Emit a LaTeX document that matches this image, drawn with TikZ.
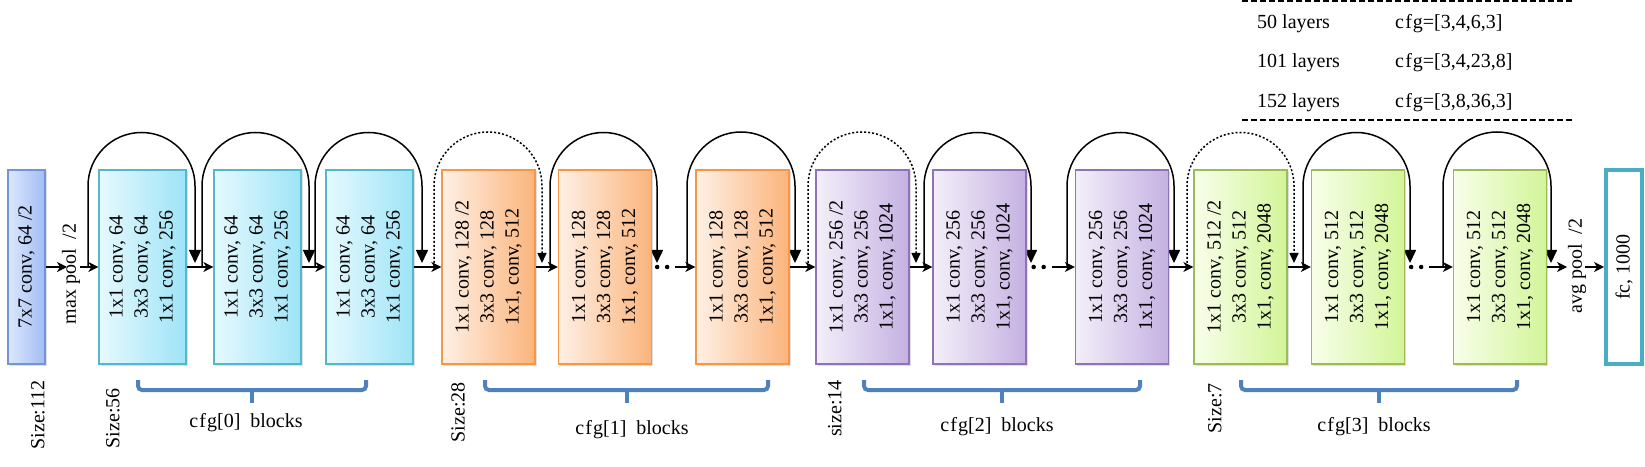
\documentclass[tikz,border=0pt]{standalone}
\usepackage{fontspec}
\setmainfont{Liberation Serif}
\usetikzlibrary{arrows.meta,shadows}
\definecolor{blueL}{HTML}{DCE7FC}
\definecolor{blueR}{HTML}{A2BDF4}
\definecolor{blueE}{HTML}{7395D5}
\definecolor{cyanL}{HTML}{E6F9FE}
\definecolor{cyanR}{HTML}{9EE4F7}
\definecolor{cyanE}{HTML}{55B7CC}
\definecolor{orL}{HTML}{FEF0E5}
\definecolor{orR}{HTML}{FBB47C}
\definecolor{orE}{HTML}{F79646}
\definecolor{puL}{HTML}{F3EFF9}
\definecolor{puR}{HTML}{C5B1E2}
\definecolor{puE}{HTML}{8E74B4}
\definecolor{grL}{HTML}{F8FEEA}
\definecolor{grR}{HTML}{D2F598}
\definecolor{grE}{HTML}{9BBB59}
\definecolor{fcE}{HTML}{4BACC6}
\definecolor{braceC}{HTML}{4F81BD}
\newcommand\resskip[4]{\draw[#4] (#1,199) -- (#1,280) arc[start angle=180,end angle=0,radius=#3] -- (#2,203);}
\newcommand\blkbrace[2]{\draw[brace] (#1,86) -- (#1,76) -- (#2,76) -- (#2,86);
  \draw[brace,rounded corners=0pt] ({(#1+#2)/2},76) -- ({(#1+#2)/2},63);}
\newcommand\cfgword{c\kern1.2pt f\kern1pt g}
\begin{document}
\begin{tikzpicture}[x=1pt,y=1pt,
  txt/.style={font=\fontsize{20}{25}\selectfont, inner sep=0pt},
  blk/.style={minimum height=194pt, minimum width=93pt, inner sep=0pt, line width=1.3pt,
    drop shadow={opacity=0.25,shadow xshift=1.5pt,shadow yshift=-1.5pt}},
  blueb/.style={blk, minimum width=37pt, draw=blueE, left color=blueL, right color=blueR},
  cyanb/.style={blk, minimum width=87pt, draw=cyanE, left color=cyanL, right color=cyanR},
  orb/.style={blk, draw=orE, left color=orL, right color=orR},
  pub/.style={blk, draw=puE, left color=puL, right color=puR},
  grb/.style={blk, draw=grE, left color=grL, right color=grR},
  fcb/.style={minimum height=194pt, minimum width=36pt, inner sep=0pt, line width=4pt, draw=fcE, fill=white},
  rtxt/.style={txt, rotate=90, align=center},
  arr/.style={line width=1.8pt, -{Stealth[length=10pt,width=10pt,inset=3pt]}},
  skipc/.style={line width=1.5pt, -{Triangle[length=13pt,width=12pt]}},
  skipd/.style={line width=1.5pt, dash pattern=on 2pt off 2pt, -{Triangle[length=10pt,width=9pt]}},
  brace/.style={line width=4pt, draw=braceC, rounded corners=4pt},
  dots/.style={line width=4.5pt, line cap=round, dash pattern=on 0pt off 10pt},
  tdash/.style={line width=2pt, dash pattern=on 6pt off 3pt},
]
\useasboundingbox (0,0) rectangle (1645,466);

% table
\draw[tdash] (1242,464.5) coordinate (ta) -- (1573,464.5) coordinate (tb);
\draw[tdash] (1242,346) coordinate (tc) -- (1573,346) coordinate (td);
\node[txt, anchor=west] (l50) at (1257,442) {50 layers};
\node[txt, anchor=west] (c50) at (1395,442) {\cfgword=[3,4,6,3]};
\node[txt, anchor=west] (l101) at (1257,403) {101 layers};
\node[txt, anchor=west] (c101) at (1395,403) {\cfgword=[3,4,23,8]};
\node[txt, anchor=west] (l152) at (1257,363) {152 layers};
\node[txt, anchor=west] (c152) at (1395,363) {\cfgword=[3,8,36,3]};

% skip loops (behind boxes)
\resskip{88}{195}{53.5pt}{skipc}
\resskip{202}{309}{53.5pt}{skipc}
\resskip{315}{422}{53.5pt}{skipc}
\resskip{434}{542}{54pt}{skipd}
\resskip{550}{657}{53.5pt}{skipc}
\resskip{687}{795}{54pt}{skipc}
\resskip{808}{916}{54pt}{skipd}
\resskip{924}{1031}{53.5pt}{skipc}
\resskip{1067}{1174}{53.5pt}{skipc}
\resskip{1187}{1294}{53.5pt}{skipd}
\resskip{1303}{1410}{53.5pt}{skipc}
\resskip{1443}{1551}{54pt}{skipc}

% boxes
\node[blueb] (b0) at (26.5,199) {};
\node[rtxt] (b0t) at (b0.center) {7x7 conv, 64 /2};

\node[cyanb] (c1) at (142.5,199) {};
\node[rtxt] (c1t) at (c1.center) {1x1 conv, 64\\3x3 conv, 64\\1x1 conv, 256};
\node[cyanb] (c2) at (257.5,199) {};
\node[rtxt] (c2t) at (c2.center) {1x1 conv, 64\\3x3 conv, 64\\1x1 conv, 256};
\node[cyanb] (c3) at (369.5,199) {};
\node[rtxt] (c3t) at (c3.center) {1x1 conv, 64\\3x3 conv, 64\\1x1 conv, 256};

\node[orb] (o1) at (488.5,199) {};
\node[rtxt] (o1t) at (o1.center) {1x1 conv, 128 /2\\3x3 conv, 128\\1x1, conv, 512};
\node[orb] (o2) at (605,199) {};
\node[rtxt] (o2t) at (o2.center) {1x1 conv, 128\\3x3 conv, 128\\1x1, conv, 512};
\node[orb] (o3) at (742.5,199) {};
\node[rtxt] (o3t) at (o3.center) {1x1 conv, 128\\3x3 conv, 128\\1x1, conv, 512};

\node[pub] (p1) at (862.5,199) {};
\node[rtxt] (p1t) at (p1.center) {1x1 conv, 256 /2\\3x3 conv, 256\\1x1, conv, 1024};
\node[pub] (p2) at (979.5,199) {};
\node[rtxt] (p2t) at (p2.center) {1x1 conv, 256\\3x3 conv, 256\\1x1, conv, 1024};
\node[pub] (p3) at (1122,199) {};
\node[rtxt] (p3t) at (p3.center) {1x1 conv, 256\\3x3 conv, 256\\1x1, conv, 1024};

\node[grb] (g1) at (1240.5,199) {};
\node[rtxt] (g1t) at (g1.center) {1x1 conv, 512 /2\\3x3 conv, 512\\1x1, conv, 2048};
\node[grb] (g2) at (1358,199) {};
\node[rtxt] (g2t) at (g2.center) {1x1 conv, 512\\3x3 conv, 512\\1x1, conv, 2048};
\node[grb] (g3) at (1500,199) {};
\node[rtxt] (g3t) at (g3.center) {1x1 conv, 512\\3x3 conv, 512\\1x1, conv, 2048};

\node[fcb] (fc) at (1624,199) {};
\node[rtxt] (fct) at (fc.center) {fc, 1000};

% pooling labels
\node[rtxt] (mp) at (71,192) {max pool\ \ /2};
\node[rtxt] (ap) at (1577,200) {avg pool\ \ /2};

% main arrows
\coordinate (mpin) at (67,199);
\coordinate (mpout) at (80,199);
\coordinate (apin) at (1567,199);
\coordinate (apout) at (1585,199);
\coordinate (od) at (675,199);
\coordinate (pd) at (1052,199);
\coordinate (gd) at (1429,199);
\draw[arr] (b0.east) -- (mpin);
\draw[arr] (mpout) -- (c1.west);
\draw[arr] (c1.east) -- (c2.west);
\draw[arr] (c2.east) -- (c3.west);
\draw[arr] (c3.east) -- (o1.west);
\draw[arr] (o1.east) -- (o2.west);
\draw[dots] (o2.east) ++(5,0) -- ++(12,0);
\draw[arr] (od) -- (o3.west);
\draw[arr] (o3.east) -- (p1.west);
\draw[arr] (p1.east) -- (p2.west);
\draw[dots] (p2.east) ++(7,0) -- ++(12,0);
\draw[arr] (pd) -- (p3.west);
\draw[arr] (p3.east) -- (g1.west);
\draw[arr] (g1.east) -- (g2.west);
\draw[dots] (g2.east) ++(6,0) -- ++(12,0);
\draw[arr] (gd) -- (g3.west);
\draw[arr] (g3.east) -- (apin);
\draw[arr] (apout) -- (fc.west);

% size labels
\node[rtxt, anchor=east] (s112) at (38,86) {Size:112};
\node[rtxt, anchor=east] (s56) at (113,78) {Size:56};
\node[rtxt, anchor=east] (s28) at (458,84) {Size:28};
\node[rtxt, anchor=east] (s14) at (835,86) {size:14};
\node[rtxt, anchor=east] (s7) at (1215,83) {Size:7};

% braces
\blkbrace{138}{366}
\blkbrace{485}{768}
\blkbrace{864}{1140}
\blkbrace{1241}{1517}
\node[txt] (cfg0) at (246,43) {\cfgword[0]\ \ blocks};
\node[txt] (cfg1) at (632,36) {\cfgword[1]\ \ blocks};
\node[txt] (cfg2) at (997,39) {\cfgword[2]\ \ blocks};
\node[txt] (cfg3) at (1374,39) {\cfgword[3]\ \ blocks};
\end{tikzpicture}
\end{document}
